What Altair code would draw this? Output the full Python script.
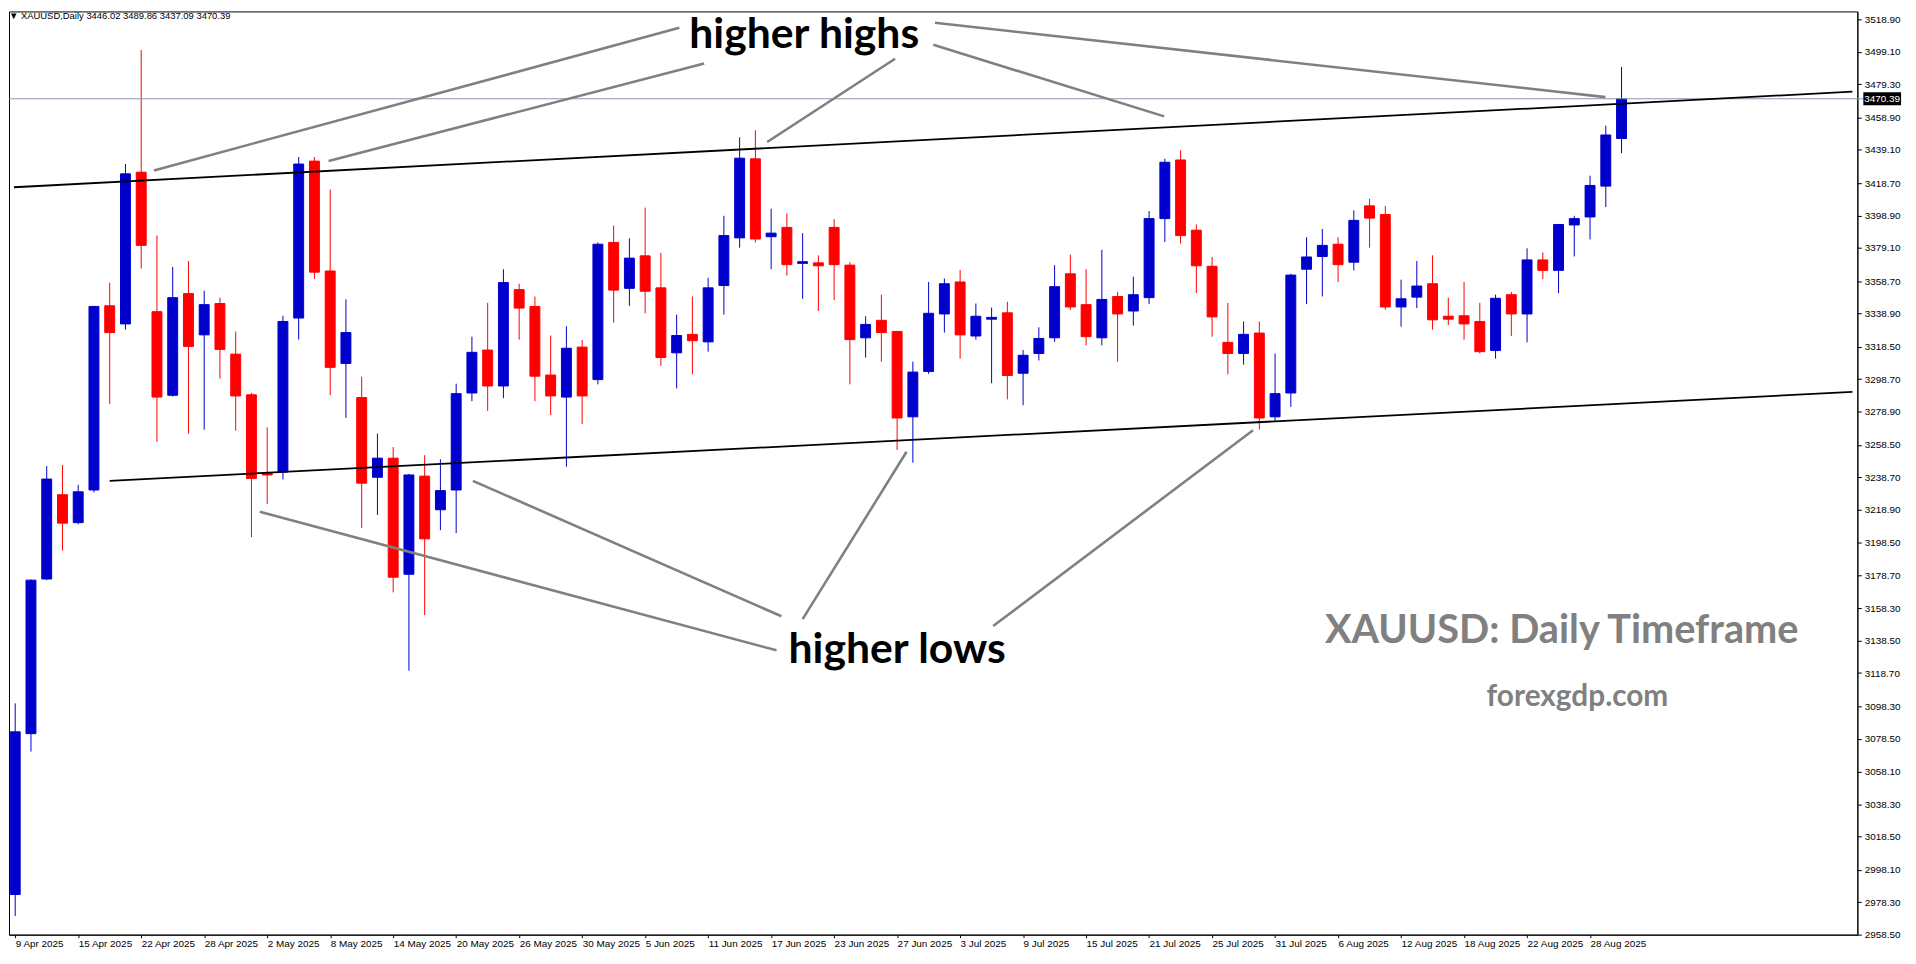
import altair as alt
import pandas as pd

# ---- candle data (daily XAUUSD, 9 Apr 2025 .. 1 Sep 2025) ----
opens = [2983.1, 3081.6, 3176.3, 3227.9, 3210.8, 3230.8, 3343.6, 3332.5, 3425.4, 3340.0,
         3288.8, 3351.1, 3325.8, 3345.0, 3314.0, 3289.1, 3241.1, 3241.8, 3336.1, 3432.2,
         3364.9, 3308.3, 3287.4, 3238.6, 3250.3, 3179.2, 3239.3, 3218.7, 3230.8, 3290.2,
         3316.5, 3294.5, 3353.5, 3343.2, 3301.2, 3287.7, 3318.3, 3298.4, 3382.4, 3354.3,
         3374.2, 3354.6, 3314.8, 3326.1, 3321.5, 3356.0, 3385.2, 3433.6, 3385.9, 3391.6,
         3369.6, 3369.9, 3391.6, 3368.5, 3324.0, 3334.7, 3327.9, 3275.6, 3303.4, 3338.6,
         3358.2, 3325.1, 3335.4, 3339.3, 3302.3, 3314.4, 3324.0, 3363.2, 3344.3, 3324.0,
         3349.3, 3340.4, 3348.6, 3397.0, 3432.9, 3389.9, 3367.8, 3321.2, 3314.4, 3326.9,
         3275.6, 3290.2, 3366.0, 3373.8, 3381.3, 3370.3, 3404.8, 3399.5, 3342.9, 3348.9,
         3357.1, 3337.2, 3337.5, 3334.0, 3316.2, 3350.4, 3338.6, 3371.7, 3365.3, 3393.1,
         3398.0, 3416.9, 3446.02]
highs = [3100.1, 3176.0, 3245.4, 3246.1, 3234.0, 3343.5, 3357.8, 3430.4, 3500.2, 3386.6,
         3367.4, 3371.0, 3352.8, 3348.6, 3327.9, 3290.2, 3269.2, 3337.5, 3434.7, 3434.7,
         3414.8, 3347.5, 3300.2, 3265.3, 3257.1, 3240.7, 3252.1, 3249.6, 3295.9, 3324.7,
         3345.4, 3366.0, 3357.1, 3349.3, 3325.4, 3331.1, 3322.6, 3382.4, 3392.7, 3384.9,
         3403.7, 3376.0, 3338.2, 3349.3, 3360.7, 3398.7, 3446.8, 3451.1, 3403.0, 3400.2,
         3388.1, 3374.5, 3396.6, 3370.3, 3337.2, 3350.4, 3328.2, 3309.4, 3358.2, 3360.3,
         3365.6, 3345.0, 3342.5, 3346.1, 3316.5, 3330.4, 3368.5, 3374.9, 3366.0, 3377.8,
         3352.1, 3361.4, 3401.6, 3433.6, 3438.9, 3393.4, 3373.5, 3345.4, 3334.0, 3334.0,
         3314.4, 3363.2, 3385.6, 3390.6, 3385.6, 3402.0, 3409.1, 3404.8, 3359.6, 3371.0,
         3374.5, 3348.6, 3358.2, 3345.4, 3350.4, 3352.1, 3378.8, 3376.3, 3393.6, 3398.7,
         3423.3, 3453.9, 3489.86]
lows = [2969.9, 3070.6, 3175.6, 3193.7, 3209.8, 3229.3, 3283.4, 3329.0, 3366.4, 3260.3,
        3288.0, 3265.3, 3267.8, 3299.1, 3267.1, 3201.9, 3222.2, 3237.2, 3322.9, 3360.0,
        3288.8, 3274.9, 3207.6, 3215.5, 3168.1, 3120.1, 3154.2, 3206.2, 3204.4, 3285.2,
        3279.2, 3287.0, 3322.9, 3285.2, 3276.7, 3245.0, 3271.3, 3295.5, 3333.3, 3343.6,
        3339.0, 3306.9, 3293.0, 3301.6, 3315.5, 3338.2, 3379.2, 3382.4, 3366.0, 3362.1,
        3347.9, 3340.4, 3347.1, 3295.5, 3311.9, 3309.4, 3255.3, 3247.5, 3301.9, 3327.2,
        3311.2, 3322.9, 3296.2, 3286.3, 3282.7, 3310.1, 3321.5, 3341.1, 3319.4, 3319.4,
        3309.4, 3331.5, 3344.6, 3382.7, 3381.7, 3351.4, 3324.7, 3301.6, 3307.6, 3267.8,
        3273.1, 3281.7, 3344.6, 3349.3, 3358.2, 3365.3, 3379.2, 3341.1, 3330.8, 3342.2,
        3329.0, 3331.8, 3322.9, 3314.4, 3311.2, 3325.1, 3321.2, 3360.0, 3351.4, 3373.8,
        3384.2, 3404.1, 3437.09]
closes = [3082.7, 3175.6, 3237.5, 3210.5, 3229.7, 3343.2, 3327.2, 3424.4, 3380.6, 3287.7,
          3348.6, 3318.7, 3344.3, 3316.9, 3288.4, 3237.9, 3240.0, 3334.0, 3430.4, 3364.2,
          3305.9, 3327.2, 3235.0, 3250.3, 3177.4, 3240.0, 3200.9, 3230.4, 3289.8, 3315.1,
          3294.5, 3357.8, 3342.2, 3300.5, 3288.4, 3317.6, 3288.4, 3381.3, 3353.2, 3372.8,
          3352.5, 3311.9, 3325.4, 3322.2, 3354.6, 3386.6, 3434.0, 3384.5, 3388.1, 3368.8,
          3370.6, 3368.1, 3368.8, 3322.9, 3332.2, 3327.2, 3274.9, 3303.0, 3339.0, 3357.1,
          3325.8, 3337.2, 3336.5, 3300.9, 3313.3, 3323.6, 3355.3, 3342.9, 3324.7, 3347.5,
          3338.6, 3350.4, 3397.0, 3431.5, 3386.6, 3368.1, 3336.8, 3314.4, 3326.1, 3274.9,
          3289.8, 3362.4, 3373.5, 3380.6, 3368.8, 3395.9, 3397.3, 3342.9, 3347.9, 3355.7,
          3335.0, 3335.4, 3332.5, 3315.5, 3348.2, 3338.6, 3371.7, 3365.3, 3393.4, 3397.0,
          3417.3, 3448.2, 3470.39]

# x-axis labels, one every 4 bars starting at bar 0
date_labels = ["9 Apr 2025", "15 Apr 2025", "22 Apr 2025", "28 Apr 2025", "2 May 2025",
               "8 May 2025", "14 May 2025", "20 May 2025", "26 May 2025", "30 May 2025",
               "5 Jun 2025", "11 Jun 2025", "17 Jun 2025", "23 Jun 2025", "27 Jun 2025",
               "3 Jul 2025", "9 Jul 2025", "15 Jul 2025", "21 Jul 2025", "25 Jul 2025",
               "31 Jul 2025", "6 Aug 2025", "12 Aug 2025", "18 Aug 2025", "22 Aug 2025",
               "28 Aug 2025"]
label_step = 4

y_ticks = [3518.90, 3499.10, 3479.30, 3458.90, 3439.10, 3418.70, 3398.90, 3379.10, 3358.70,
           3338.90, 3318.50, 3298.70, 3278.90, 3258.50, 3238.70, 3218.90, 3198.50, 3178.70,
           3158.30, 3138.50, 3118.70, 3098.30, 3078.50, 3058.10, 3038.30, 3018.50, 2998.10,
           2978.30, 2958.50]

# channel trend lines (bar index, price)
trend_x1 = [-0.08, 6.0]
trend_y1 = [3416.2, 3236.4]
trend_x2 = [116.66, 116.66]
trend_y2 = [3474.7, 3290.9]

# grey pointer lines (bar index, price)
ann_x1 = [42.17, 43.75, 55.87, 58.3, 58.4, 48.34, 48.65, 50.0, 62.1]
ann_y1 = [3513.8, 3492.0, 3494.9, 3503.4, 3516.9, 3132.6, 3153.5, 3151.7, 3147.5]
ann_x2 = [8.81, 19.9, 47.75, 72.96, 100.98, 15.53, 29.06, 56.6, 78.6]
ann_y2 = [3426.5, 3432.2, 3443.9, 3459.6, 3471.4, 3217.5, 3236.4, 3254.2, 3267.4]

# big annotation texts
note_text = ["higher highs", "higher lows"]
note_x = [50.1, 56.0]
note_y = [3501.6, 3125.0]

brand_text = ["XAUUSD: Daily Timeframe", "forexgdp.com"]
brand_x = [98.2, 99.2]
brand_y = [3137.0, 3098.3]
brand_size = [40, 30]

X_DOMAIN = [-0.08, 116.66]
Y_DOMAIN = [2958.5, 3523.85]
W, H = 1862, 930

n = len(opens)
df = pd.DataFrame({"i": list(range(n)), "open": opens, "high": highs,
                   "low": lows, "close": closes})
df["dir"] = ["up" if c >= o else "down" for o, c in zip(opens, closes)]

xs = alt.Scale(domain=X_DOMAIN, nice=False, zero=False)
ys = alt.Scale(domain=Y_DOMAIN, nice=False, zero=False)
col = alt.Color("dir:N", scale=alt.Scale(domain=["up", "down"], range=["#0000CD", "#FF0000"]),
                legend=None)

label_arr = "[" + ",".join("'" + d + "'" for d in date_labels) + "]"
x_axis = alt.Axis(values=list(range(0, label_step * len(date_labels), label_step)),
                  labelExpr=label_arr + f"[round(datum.value/{label_step})]",
                  orient="bottom", grid=False, title=None, tickSize=3, tickColor="black",
                  domainColor="black", labelAlign="left", labelFont="Liberation Sans",
                  labelFontSize=10, labelColor="black", labelPadding=1, labelOverlap=False,
                  labelFlush=False, labelBound=False)
y_axis = alt.Axis(values=y_ticks, format=".2f", orient="right", grid=False, title=None,
                  tickSize=4, tickColor="black", domainColor="black", labelFont="Liberation Sans",
                  labelFontSize=10, labelColor="black", labelPadding=3, labelOverlap=False,
                  labelBound=False, labelFlush=False)


def X(field):
    return alt.X(field, scale=xs, axis=x_axis)


def Y(field):
    return alt.Y(field, scale=ys, axis=y_axis)


base = alt.Chart(df)

wicks = base.mark_rule(strokeWidth=1).encode(
    x=X("i:Q"), y=Y("low:Q"), y2="high:Q", color=col,
)
bodies = base.mark_bar(size=10, strokeWidth=1).encode(
    x=X("i:Q"), y=Y("open:Q"), y2="close:Q", color=col, stroke=col,
)

trend_df = pd.DataFrame({"x1": trend_x1, "y1": trend_y1, "x2": trend_x2, "y2": trend_y2})
trends = alt.Chart(trend_df).mark_rule(color="black", strokeWidth=1.8, clip=True).encode(
    x=X("x1:Q"), x2="x2:Q", y=Y("y1:Q"), y2="y2:Q",
)

ann_df = pd.DataFrame({"x1": ann_x1, "y1": ann_y1, "x2": ann_x2, "y2": ann_y2})
anns = alt.Chart(ann_df).mark_rule(color="#808080", strokeWidth=2.6).encode(
    x=X("x1:Q"), x2="x2:Q", y=Y("y1:Q"), y2="y2:Q",
)

last_close = closes[-1]
price_df = pd.DataFrame({"p": [last_close], "t": [f"{last_close:.2f}"]})
price_line = alt.Chart(price_df).mark_rule(color="#8A9AAA", strokeWidth=1).encode(
    x=alt.value(0), x2=alt.value(W + 6), y=Y("p:Q"),
)
price_box = alt.Chart(price_df).mark_rule(color="black", strokeWidth=13, strokeCap="butt").encode(
    x=alt.value(W + 6), x2=alt.value(W + 44), y=Y("p:Q"),
)
price_txt = alt.Chart(price_df).mark_text(color="white", font="Liberation Sans", fontSize=10,
                                          align="center", baseline="middle").encode(
    x=alt.value(W + 25), y=Y("p:Q"), text="t:N",
)

header = f"\u25BC XAUUSD,Daily  {opens[-1]:.2f} {highs[-1]:.2f} {lows[-1]:.2f} {closes[-1]:.2f}"
head_df = pd.DataFrame({"t": [header]})
head = alt.Chart(head_df).mark_text(color="black", font="Liberation Sans", fontSize=9.5,
                                    align="left", baseline="middle").encode(
    x=alt.value(0), y=alt.value(5), text="t:N")

note_df = pd.DataFrame({"t": note_text, "x": note_x, "y": note_y})
notes = alt.Chart(note_df).mark_text(color="black", font="Lato", fontWeight="bold", fontSize=43,
                                     align="center", baseline="alphabetic").encode(
    x=X("x:Q"), y=Y("y:Q"), text="t:N",
)

brand_df = pd.DataFrame({"t": brand_text, "x": brand_x, "y": brand_y, "s": brand_size})
brand = alt.Chart(brand_df).mark_text(color="#808080", font="Lato", fontWeight="bold",
                                      align="center", baseline="alphabetic").encode(
    x=X("x:Q"), y=Y("y:Q"), text="t:N",
    size=alt.Size("s:Q", scale=None, legend=None),
)

chart = alt.layer(
    wicks, bodies, price_line, trends, anns, price_box, price_txt, head, notes, brand
).properties(
    width=W, height=H, padding=0, background="white"
).configure_view(stroke="black", strokeWidth=1)

chart.save("out.html", embed_options={"renderer": "svg", "actions": False})
